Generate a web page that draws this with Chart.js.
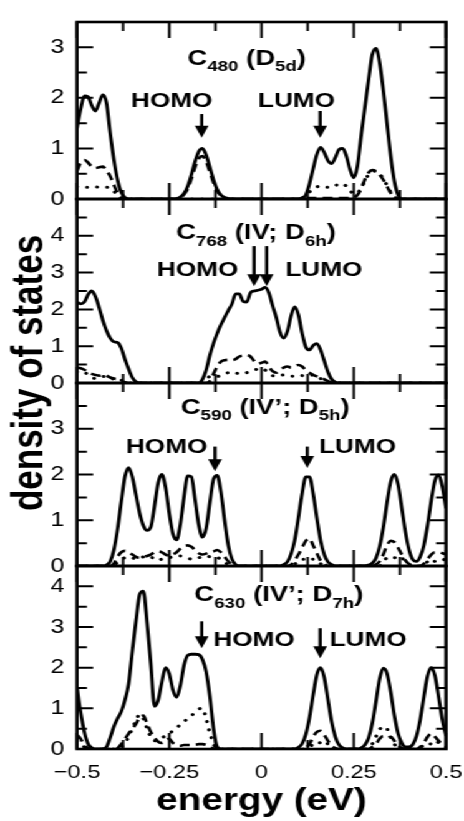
<!DOCTYPE html>
<html>
<head>
<meta charset="utf-8">
<script src="https://cdn.jsdelivr.net/npm/chart.js@4.4.1/dist/chart.umd.min.js"></script>
<style>
  html, body { margin: 0; padding: 0; background: #fff; overflow: hidden; }
  #wrap { position: relative; width: 372px; height: 821px; transform: scaleX(1.2473); transform-origin: 0 0; }
  #wrap canvas { position: absolute; left: 0; top: 0; }
</style>
</head>
<body>
<div id="wrap">
  <canvas id="p1" width="372" height="821"></canvas>
  <canvas id="p2" width="372" height="821"></canvas>
  <canvas id="p3" width="372" height="821"></canvas>
  <canvas id="p4" width="372" height="821"></canvas>
</div>
<script>
// energy grid (eV)
var energy = [
  -0.5,-0.49,-0.48,-0.47,-0.46,-0.45,-0.44,-0.43,-0.42,-0.41,
  -0.4,-0.39,-0.38,-0.37,-0.36,-0.35,-0.34,-0.33,-0.32,-0.31,
  -0.3,-0.29,-0.28,-0.27,-0.26,-0.25,-0.24,-0.23,-0.22,-0.21,
  -0.2,-0.19,-0.18,-0.17,-0.16,-0.15,-0.14,-0.13,-0.12,-0.11,
  -0.1,-0.09,-0.08,-0.07,-0.06,-0.05,-0.04,-0.03,-0.02,-0.01,
  0,0.01,0.02,0.03,0.04,0.05,0.06,0.07,0.08,0.09,
  0.1,0.11,0.12,0.13,0.14,0.15,0.16,0.17,0.18,0.19,
  0.2,0.21,0.22,0.23,0.24,0.25,0.26,0.27,0.28,0.29,
  0.3,0.31,0.32,0.33,0.34,0.35,0.36,0.37,0.38,0.39,
  0.4,0.41,0.42,0.43,0.44,0.45,0.46,0.47,0.48,0.49,
  0.5
];

// C480 (D5d)
var c480Solid = [
  1.4,1.78,2.04,2.02,1.85,1.74,1.9,2.06,1.9,1.3,
  0.78,0.38,0.13,0.03,0,0,0,0,0,0,
  0,0,0,0,0,0,0,0.01,0.04,0.11,
  0.25,0.48,0.74,0.94,1.0,0.87,0.63,0.38,0.19,0.08,
  0.03,0.01,0,0,0,0,0,0,0,0,
  0,0,0,0,0,0,0,0,0,0,
  0,0.02,0.08,0.3,0.6,0.88,1.02,0.92,0.76,0.7,
  0.82,0.98,1.0,0.85,0.58,0.42,0.65,1.25,1.8,2.35,
  2.85,2.98,2.7,2.15,1.5,0.85,0.35,0.08,0,0,
  0,0,0,0,0,0,0,0,0,0,
  0
];
var c480Dashed = [
  0.55,0.72,0.77,0.72,0.64,0.61,0.63,0.64,0.56,0.45,
  0.28,0.12,0.02,0,0,0,0,0,0,0,
  0,0,0,0,0,0,0,0,0.03,0.09,
  0.2,0.4,0.63,0.8,0.85,0.74,0.54,0.32,0.16,0.07,
  0.02,0,0,0,0,0,0,0,0,0,
  0,0,0,0,0,0,0,0,0,0,
  0,0.01,0.02,0.02,0.02,0.02,0.02,0.02,0.02,0.02,
  0.02,0.02,0.02,0.02,0.02,0.03,0.08,0.2,0.38,0.52,
  0.57,0.55,0.48,0.38,0.25,0.12,0.04,0,0,0,
  0,0,0,0,0,0,0,0,0,0,
  0
];
var c480Dotted = [
  0.24,0.24,0.23,0.23,0.24,0.24,0.23,0.23,0.23,0.22,
  0.15,0.08,0.02,0,0,0,0,0,0,0,
  0,0,0,0,0,0,0,0,0,0,
  0,0,0,0,0,0,0,0,0,0,
  0,0,0,0,0,0,0,0,0,0,
  0,0,0,0,0,0,0,0,0,0,
  0,0.02,0.08,0.14,0.2,0.24,0.26,0.25,0.23,0.23,
  0.26,0.3,0.3,0.25,0.17,0.1,0.12,0.22,0.36,0.48,
  0.54,0.55,0.5,0.4,0.27,0.14,0.05,0,0,0,
  0,0,0,0,0,0,0,0,0,0,
  0
];

// C768 (IV; D6h)
var c768Solid = [
  2.2,2.15,2.2,2.4,2.5,2.35,2.05,1.7,1.42,1.22,
  1.12,1.1,0.95,0.65,0.38,0.15,0.03,0,0,0,
  0,0,0,0,0,0,0,0,0,0,
  0,0,0,0,0.1,0.35,0.75,1.08,1.35,1.58,
  1.78,1.97,2.15,2.42,2.42,2.22,2.2,2.45,2.5,2.52,
  2.55,2.6,2.45,2.1,1.78,1.38,1.22,1.4,1.82,2.07,
  1.85,1.35,0.98,0.9,1.02,1.07,0.9,0.6,0.3,0.1,
  0.02,0,0,0,0,0,0,0,0,0,
  0,0,0,0,0,0,0,0,0,0,
  0,0,0,0,0,0,0,0,0,0,
  0
];
var c768Dashed = [
  0.42,0.4,0.36,0.3,0.25,0.22,0.2,0.22,0.2,0.15,
  0.12,0.1,0.06,0.02,0,0,0,0,0,0,
  0,0,0,0,0,0,0,0,0,0,
  0,0,0,0,0,0,0.05,0.25,0.45,0.58,
  0.62,0.63,0.62,0.65,0.72,0.75,0.76,0.72,0.6,0.52,
  0.55,0.58,0.45,0.32,0.28,0.35,0.42,0.45,0.42,0.45,
  0.49,0.45,0.35,0.28,0.22,0.18,0.15,0.1,0.05,0.01,
  0,0,0,0,0,0,0,0,0,0,
  0,0,0,0,0,0,0,0,0,0,
  0,0,0,0,0,0,0,0,0,0,
  0
];
var c768Dotted = [
  0.3,0.32,0.3,0.22,0.15,0.12,0.15,0.18,0.15,0.1,
  0.12,0.14,0.08,0.02,0,0,0,0,0,0,
  0,0,0,0,0,0,0,0,0,0,
  0,0,0,0,0.02,0.1,0.18,0.2,0.18,0.2,
  0.25,0.28,0.3,0.28,0.25,0.25,0.28,0.32,0.35,0.38,
  0.4,0.35,0.28,0.2,0.18,0.2,0.22,0.2,0.18,0.2,
  0.22,0.2,0.18,0.2,0.22,0.18,0.12,0.06,0.02,0,
  0,0,0,0,0,0,0,0,0,0,
  0,0,0,0,0,0,0,0,0,0,
  0,0,0,0,0,0,0,0,0,0,
  0
];

// C590 (IV'; D5h)
var c590Solid = [
  0,0,0,0,0,0,0,0,0.02,0.1,
  0.35,0.8,1.4,1.95,2.15,1.95,1.55,1.15,0.88,0.78,
  0.85,1.3,1.82,2.0,1.72,1.15,0.7,0.57,0.9,1.5,
  1.97,1.95,1.45,0.9,0.63,0.82,1.38,1.9,1.98,1.62,
  1.0,0.45,0.15,0.03,0,0,0,0,0,0,
  0,0,0,0,0,0,0.03,0.09,0.26,0.56,
  1.05,1.58,1.95,1.95,1.58,1.05,0.56,0.25,0.09,0.03,
  0,0,0,0,0,0,0,0,0,0.02,
  0.06,0.17,0.42,0.84,1.38,1.84,2.0,1.78,1.27,0.74,
  0.35,0.14,0.1,0.2,0.45,0.89,1.43,1.87,1.99,1.73,
  1.26
];
var c590Dashed = [
  0,0,0,0,0,0,0,0,0,0,
  0.05,0.2,0.3,0.33,0.3,0.25,0.2,0.18,0.2,0.22,
  0.25,0.3,0.32,0.3,0.25,0.22,0.25,0.3,0.38,0.43,
  0.45,0.42,0.35,0.28,0.25,0.27,0.3,0.32,0.35,0.3,
  0.2,0.1,0.03,0,0,0,0,0,0,0,
  0,0,0,0,0,0,0,0,0.03,0.12,
  0.25,0.4,0.55,0.6,0.45,0.28,0.12,0.04,0,0,
  0,0,0,0,0,0,0,0,0,0,
  0,0.03,0.1,0.25,0.45,0.55,0.52,0.4,0.25,0.12,
  0.04,0,0,0,0.05,0.15,0.25,0.3,0.3,0.28,
  0.25
];
var c590Dotted = [
  0,0,0,0,0,0,0,0,0,0,
  0.02,0.08,0.15,0.18,0.2,0.18,0.15,0.18,0.2,0.22,
  0.2,0.15,0.12,0.15,0.15,0.18,0.2,0.22,0.22,0.2,
  0.18,0.15,0.15,0.18,0.2,0.22,0.2,0.18,0.18,0.15,
  0.08,0.03,0,0,0,0,0,0,0,0,
  0,0,0,0,0,0,0,0,0,0.04,
  0.1,0.15,0.15,0.12,0.15,0.12,0.05,0,0,0,
  0,0,0,0,0,0,0,0,0,0,
  0,0,0,0.1,0.18,0.2,0.18,0.22,0.18,0.1,
  0.04,0,0,0,0,0.1,0.15,0.1,0.12,0.15,
  0.12
];

// C630 (IV'; D7h)
var c630Solid = [
  1.52,0.9,0.42,0.13,0.03,0,0,0,0.05,0.28,
  0.55,0.75,0.92,1.2,1.6,2.4,3.15,3.8,3.88,3.1,
  2.1,1.05,1.2,1.65,2.0,1.85,1.45,1.27,1.55,2.05,
  2.3,2.33,2.33,2.32,2.2,1.9,1.3,0.5,0.05,0,
  0,0,0,0,0,0,0,0,0,0,
  0,0,0,0,0,0,0,0,0,0,
  0.04,0.13,0.36,0.77,1.33,1.83,2.0,1.76,1.22,0.67,
  0.3,0.1,0.03,0,0,0,0,0.03,0.1,0.27,
  0.62,1.16,1.72,1.99,1.86,1.4,0.82,0.38,0.15,0.05,
  0.05,0.11,0.32,0.72,1.28,1.8,2.0,1.8,1.28,0.72,
  0.32
];
var c630Dashed = [
  0.35,0.25,0.1,0.02,0,0,0,0,0,0,
  0,0.02,0.12,0.25,0.38,0.5,0.62,0.78,0.82,0.62,
  0.42,0.28,0.18,0.15,0.2,0.25,0.15,0.1,0.08,0.1,
  0.1,0.1,0.1,0.12,0.12,0.1,0.05,0.01,0,0,
  0,0,0,0,0,0,0,0,0,0,
  0,0,0,0,0,0,0,0,0,0,
  0,0,0.03,0.12,0.3,0.42,0.45,0.35,0.2,0.08,
  0.02,0,0,0,0,0,0,0,0,0,
  0.05,0.12,0.25,0.32,0.28,0.3,0.2,0.08,0.02,0,
  0,0,0,0.05,0.15,0.3,0.38,0.3,0.2,0.1,
  0.05
];
var c630Dotted = [
  0.2,0.12,0.05,0,0,0,0,0,0,0,
  0,0,0.05,0.15,0.3,0.5,0.7,0.85,0.75,0.5,
  0.3,0.2,0.22,0.28,0.32,0.38,0.45,0.52,0.6,0.67,
  0.75,0.82,0.9,0.98,1.0,0.75,0.4,0.12,0.02,0,
  0,0,0,0,0,0,0,0,0,0,
  0,0,0,0,0,0,0,0,0,0,
  0,0,0,0.05,0.12,0.18,0.15,0.2,0.12,0.05,
  0,0,0,0,0,0,0,0,0,0.03,
  0.12,0.3,0.48,0.55,0.5,0.3,0.12,0.03,0,0,
  0,0,0,0.03,0.1,0.15,0.12,0.2,0.15,0.08,
  0.04
];

// tick labels
var xTickValues = [-0.5, -0.25, 0, 0.25, 0.5];
var yTicks480 = [0, 1, 2, 3];
var yTicks768 = [0, 1, 2, 3, 4];
var yTicks590 = [0, 1, 2, 3];
var yTicks630 = [0, 1, 2, 3, 4];

var FONT = "'Liberation Sans', Arial, Helvetica, sans-serif";
var CANVAS_H = 821;
var PLOT_LEFT = 61.7, PLOT_RIGHT_PAD = 14.4;

function pts(vals) {
  return energy.map(function (e, i) { return {x: e, y: vals[i]}; });
}

function drawArrow(ctx, x, y0, y1) {
  var head = 12;
  ctx.lineWidth = 2.6;
  ctx.beginPath();
  ctx.moveTo(x, y0);
  ctx.lineTo(x, y1 - head + 1);
  ctx.stroke();
  ctx.beginPath();
  ctx.moveTo(x - 5.5, y1 - head);
  ctx.lineTo(x + 5.5, y1 - head);
  ctx.lineTo(x, y1);
  ctx.closePath();
  ctx.fill();
}

function drawTitle(ctx, cx, y, parts) {
  var total = 0;
  parts.forEach(function (p) {
    ctx.font = 'bold ' + (p[1] ? 15 : 22) + 'px ' + FONT;
    total += ctx.measureText(p[0]).width;
  });
  var x = cx - total / 2;
  ctx.textAlign = 'left';
  ctx.textBaseline = 'alphabetic';
  parts.forEach(function (p) {
    ctx.font = 'bold ' + (p[1] ? 15 : 22) + 'px ' + FONT;
    ctx.fillText(p[0], x, y + (p[1] ? 6.5 : 0));
    x += ctx.measureText(p[0]).width;
  });
}

// frame, inward ticks and annotations
var framePlugin = {
  id: 'notes',
  afterDraw: function (chart, args, opts) {
    var ctx = chart.ctx, a = chart.chartArea, xs = chart.scales.x, ys = chart.scales.y;
    ctx.save();
    ctx.strokeStyle = '#000';
    ctx.fillStyle = '#000';

    ctx.lineWidth = 2;
    for (var v = -0.5; v <= 0.5001; v += 0.125) {
      var px = xs.getPixelForValue(v);
      var len = Math.abs(v / 0.25 - Math.round(v / 0.25)) < 1e-6 ? 16 : 9;
      ctx.beginPath();
      ctx.moveTo(px, a.bottom); ctx.lineTo(px, a.bottom - len);
      ctx.moveTo(px, a.top); ctx.lineTo(px, a.top + len);
      ctx.stroke();
    }
    for (var w = 0; w <= ys.max + 0.001; w += 0.5) {
      var py = ys.getPixelForValue(w);
      var l2 = Math.abs(w - Math.round(w)) < 1e-6 ? 13 : 8;
      ctx.beginPath();
      ctx.moveTo(a.left, py); ctx.lineTo(a.left + l2, py);
      ctx.moveTo(a.right, py); ctx.lineTo(a.right - l2, py);
      ctx.stroke();
    }
    ctx.lineWidth = 2.6;
    ctx.strokeRect(a.left, a.top, a.right - a.left, a.bottom - a.top);

    drawTitle(ctx, xs.getPixelForValue(opts.title.x), ys.getPixelForValue(opts.title.y), opts.title.parts);

    ctx.font = 'bold 21px ' + FONT;
    ctx.textAlign = 'center';
    ctx.textBaseline = 'alphabetic';
    opts.texts.forEach(function (t) {
      ctx.fillText(t[0], xs.getPixelForValue(t[1]), ys.getPixelForValue(t[2]));
    });
    opts.arrows.forEach(function (r) {
      drawArrow(ctx, xs.getPixelForValue(r[0]), ys.getPixelForValue(r[1]), ys.getPixelForValue(r[2]));
    });

    if (opts.yLabel) {
      ctx.translate(34, 373);
      ctx.rotate(-Math.PI / 2);
      ctx.font = 'bold 35px ' + FONT;
      ctx.textAlign = 'center';
      ctx.fillText(opts.yLabel, 0, 0);
    }
    ctx.restore();
  }
};

function panel(id, solid, dashed, dotted, yMax, yTicks, top, bottom, last, notes) {
  return new Chart(document.getElementById(id), {
    type: 'line',
    data: {
      datasets: [
        {data: pts(solid), borderColor: '#000', borderWidth: 2.8},
        {data: pts(dashed), borderColor: '#000', borderWidth: 2.6, borderDash: [8, 5]},
        {data: pts(dotted), borderColor: '#000', borderWidth: 3, borderDash: [0.1, 8], borderCapStyle: 'round'}
      ]
    },
    options: {
      responsive: false,
      animation: false,
      events: [],
      elements: {point: {radius: 0}, line: {cubicInterpolationMode: 'monotone', fill: false}},
      layout: {autoPadding: false, padding: {top: top, bottom: last ? 0 : CANVAS_H - bottom, left: 0, right: PLOT_RIGHT_PAD}},
      plugins: {legend: {display: false}, tooltip: {enabled: false}, notes: notes},
      scales: {
        x: {
          type: 'linear', min: -0.5, max: 0.5,
          grid: {display: false, drawTicks: false},
          border: {display: false},
          afterBuildTicks: function (s) { s.ticks = xTickValues.map(function (v) { return {value: v}; }); },
          ticks: {
            display: last, padding: 12, color: '#000', maxRotation: 0, autoSkip: false,
            font: {family: FONT, size: 19},
            callback: function (v) { return (v < 0 ? '\u2212' : '') + Math.abs(v); }
          },
          title: {display: last, text: 'energy (eV)', color: '#000', padding: {top: 0, bottom: 1},
                  font: {family: FONT, size: 31, weight: 'bold'}},
          afterFit: function (s) {
            s.height = last ? CANVAS_H - bottom : 0;
            s.paddingLeft = 0; s.paddingRight = 0;
          }
        },
        y: {
          min: 0, max: yMax,
          grid: {display: false, drawTicks: false},
          border: {display: false},
          afterBuildTicks: function (s) { s.ticks = yTicks.map(function (v) { return {value: v}; }); },
          ticks: {padding: 10, color: '#000', font: {family: FONT, size: 20}},
          afterFit: function (s) { s.width = PLOT_LEFT; }
        }
      }
    },
    plugins: [framePlugin]
  });
}

panel('p1', c480Solid, c480Dashed, c480Dotted, 3.5, yTicks480, 13, 199, false, {
  title: {x: -0.04, y: 2.65, parts: [['C', 0], ['480', 1], [' (D', 0], ['5d', 1], [')', 0]]},
  texts: [['HOMO', -0.243, 1.81], ['LUMO', 0.095, 1.81]],
  arrows: [[-0.162, 1.68, 1.21], [0.159, 1.74, 1.21]]
});
panel('p2', c768Solid, c768Dashed, c768Dotted, 5, yTicks768, 199, 383, false, {
  title: {x: -0.015, y: 3.9, parts: [['C', 0], ['768', 1], [' (IV; D', 0], ['6h', 1], [')', 0]]},
  texts: [['HOMO', -0.173, 2.9], ['LUMO', 0.169, 2.9]],
  arrows: [[-0.02, 3.72, 2.63], [0.014, 3.72, 2.63]]
});
panel('p3', c590Solid, c590Dashed, c590Dotted, 4, yTicks590, 383, 566, false, {
  title: {x: 0.01, y: 3.33, parts: [['C', 0], ['590', 1], [' (IV\u2019; D', 0], ['5h', 1], [')', 0]]},
  texts: [['HOMO', -0.257, 2.47], ['LUMO', 0.26, 2.47]],
  arrows: [[-0.126, 2.61, 2.07], [0.124, 2.61, 2.14]],
  yLabel: 'density of states'
});
panel('p4', c630Solid, c630Dashed, c630Dotted, 4.5, yTicks630, 566, 749, true, {
  title: {x: 0.047, y: 3.63, parts: [['C', 0], ['630', 1], [' (IV\u2019; D', 0], ['7h', 1], [')', 0]]},
  texts: [['HOMO', -0.02, 2.54], ['LUMO', 0.289, 2.54]],
  arrows: [[-0.162, 3.14, 2.48], [0.159, 2.97, 2.23]]
});
</script>
</body>
</html>
